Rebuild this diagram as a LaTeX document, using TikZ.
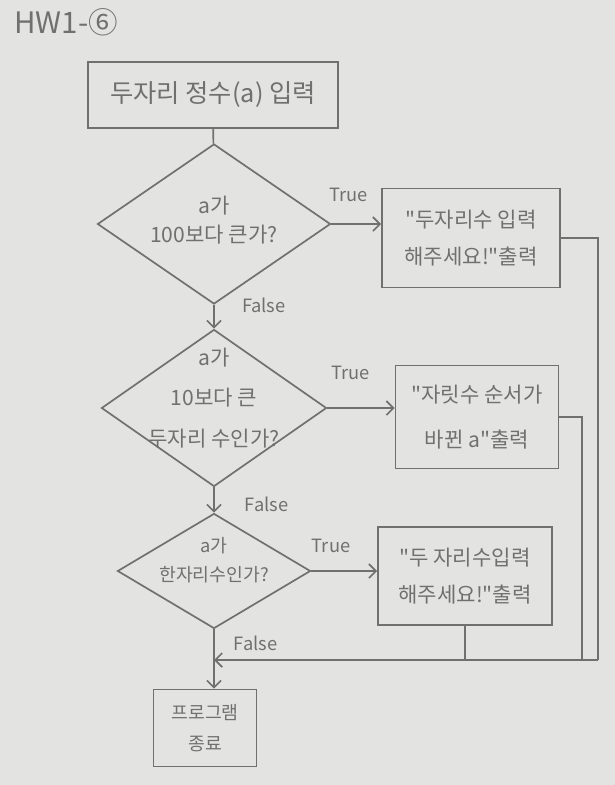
\documentclass[tikz,border=0pt]{standalone}
\usepackage{fontspec}
\setmainfont{Noto Sans CJK KR}[Ligatures=TeXOff]
\usetikzlibrary{arrows,arrows.meta,calc,positioning,shapes.geometric}
\definecolor{paper}{RGB}{227,227,225}
\definecolor{pencil}{RGB}{112,112,112}

\begin{document}
\begin{tikzpicture}[x=0.025cm,y=-0.025cm,>={Straight Barb[length=5pt,width=10pt]},
    line width=1.2pt,color=pencil,
    iobox/.style={draw,rectangle,align=center,inner sep=0pt},
    test/.style={draw,diamond,inner sep=0pt},
    testtext/.style={align=center,font=\fontsize{15}{21}\selectfont},
    outtext/.style={font=\fontsize{15}{26}\selectfont},
    tf/.style={font=\fontsize{13}{15}\selectfont}]
%
  \fill [paper] (0,0) rectangle (615,785) ;
  \useasboundingbox (0,0) rectangle (615,785) ;
%
  \node [font=\fontsize{21}{24}\selectfont] (title) at (66,22) {HW1-⑥} ;
%
  \node [iobox,minimum width=6.25cm,minimum height=1.65cm,
         font=\fontsize{18}{22}\selectfont] (start) at (213,95) {두자리 정수(a) 입력} ;
%
  \node [test,minimum width=5.825cm,minimum height=4cm] (t1) at (214,224) {} ;
  \node [testtext] (q1) at (214,220) {a가\\100보다 큰가?} ;
  \node [test,minimum width=5.625cm,minimum height=3.925cm] (t2) at (214,408) {} ;
  \node [testtext,font=\fontsize{15}{29}\selectfont] (q2) at (214,398)
        {a가\\10보다 큰\\두자리 수인가?} ;
  \node [test,minimum width=4.825cm,minimum height=2.875cm] (t3) at (214,571) {} ;
  \node [testtext,font=\fontsize{13}{21}\selectfont] (q3) at (214,560)
        {a가\\한자리수인가?} ;
%
  \node [iobox,outtext,minimum width=4.45cm,minimum height=2.475cm] (out1)
        at (471,238) {"두자리수 입력\\해주세요!"출력} ;
  \node [iobox,outtext,minimum width=4.075cm,minimum height=2.575cm] (out2)
        at (477,417) {"자릿수 순서가\\[6pt]바뀐 a"출력} ;
  \node [iobox,outtext,minimum width=4.35cm,minimum height=2.45cm] (out3)
        at (465,576) {"두 자리수입력\\해주세요!"출력} ;
  \node [iobox,minimum width=2.575cm,minimum height=1.925cm,
         font=\fontsize{13}{22}\selectfont] (stop) at (205,728) {프로그램\\종료} ;
%
  \draw (start) -- (t1) ;
  \draw [->] (t1) -- (t2) node [tf,at start,right=16pt] {False} ;
  \draw [->] (t2) -- (t3) node [tf,at start,below right=3pt and 18pt] {False} ;
  \draw [->] (t3.south) -- (t3.south |- stop.north)
        node [tf,at start,below right=1pt and 10pt] {False} ;
%
  \draw [->] (t1.east) -- (t1.east -| out1.west) node [tf,pos=.35,above=12pt] {True} ;
  \draw [->] (t2.east) -- (t2.east -| out2.west) node [tf,pos=.35,above=16pt] {True} ;
  \draw [->] (t3.east) -- (t3.east -| out3.west) node [tf,pos=.3,above=9pt] {True} ;
%
  \coordinate (join) at (598,660) ;
  \draw (out1.east) -| (join) ;
  \draw (out2.east) -| ($(join)+(-16,0)$) ;
  \draw (out3.south) -- (out3.south |- join) ;
  \draw [->] (join) -- (join -| t3.south) ;

\end{tikzpicture}
\end{document}
